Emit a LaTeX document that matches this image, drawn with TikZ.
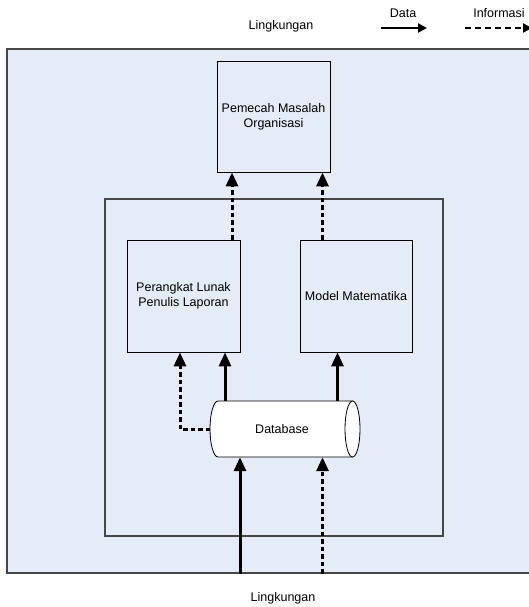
\documentclass[tikz,border=0pt]{standalone}
\usepackage{fontspec}
\setmainfont{Liberation Sans}
\usetikzlibrary{arrows.meta}
\definecolor{envfill}{HTML}{E6ECF7}
\begin{document}
\begin{tikzpicture}[x=1pt,y=-1pt,
  txt/.style={font=\fontsize{12.5}{15}\selectfont},
  box/.style={txt, draw=black, line width=0.8pt, align=center, inner sep=0pt},
  frame/.style={draw=black!72, line width=1.3pt, inner sep=0pt},
  data/.style={line width=3pt, -{Triangle[width=12pt,length=14pt]}},
  info/.style={line width=3pt, dash pattern=on 4.5pt off 3pt, -{Triangle[width=12pt,length=14pt]}},
  keydata/.style={line width=2.7pt, -{Triangle[width=9pt,length=9pt]}},
  keyinfo/.style={line width=2.7pt, dash pattern=on 6pt off 4pt, -{Triangle[width=9pt,length=9pt]}}]
\useasboundingbox (0,0) rectangle (529,607);

% environment (system boundary)
\node[frame, fill=envfill, minimum width=533pt, minimum height=524pt] (env) at (273.5,311) {};
% information system boundary
\node[frame, minimum width=338pt, minimum height=337pt] (sys) at (274,367.5) {};

% components
\node[box, minimum width=113pt, minimum height=111pt] (pm) at (273.5,116.5) {Pemecah Masalah\\Organisasi};
\node[box, minimum width=113pt, minimum height=112pt] (pl) at (183.5,296) {Perangkat Lunak\\Penulis Laporan};
\node[box, minimum width=112pt, minimum height=112pt] (mm) at (356,296) {Model Matematika};

% database cylinder
\node[txt, minimum width=142pt, minimum height=56pt, inner sep=0pt] (db) at (285,429) {};
\path[draw=black, line width=0.8pt, fill=white]
  (218,401) -- (352.5,401) -- (352.5,457) -- (218,457)
  arc[start angle=90, end angle=270, x radius=8, y radius=28] -- cycle;
\draw[line width=0.8pt, fill=white] (352.5,429) ellipse[x radius=7.5, y radius=28];
\node[txt] at (282,429) {Database};

% labels
\node[txt] (envtop) at (281,26) {Lingkungan};
\node[txt] (envbot) at (283,598) {Lingkungan};
\node[txt] (kd) at (403,13) {Data};
\node[txt] (ki) at (499,13) {Informasi};

% legend arrows
\coordinate (kd1) at (381,28);
\coordinate (kd2) at (427,28);
\coordinate (ki1) at (465,28);
\coordinate (ki2) at (532,28);
\draw[keydata] (kd1) -- (kd2);
\draw[keyinfo] (ki1) -- (ki2);

% flows
\draw[info] (pl.north -| 232,0) -- (pm.south -| 232,0);
\draw[info] (mm.north -| 322.5,0) -- (pm.south -| 322.5,0);
\draw[data] (db.north -| 225,0) -- (pl.south -| 225,0);
\draw[data] (db.north -| 337.5,0) -- (mm.south -| 337.5,0);
\draw[info] (210,429) -- (180,429) -- (pl.south -| 180,0);
\draw[data] (env.south -| 240,0) -- (db.south -| 240,0);
\draw[info] (env.south -| 322.5,0) -- (db.south -| 322.5,0);
\end{tikzpicture}
\end{document}
